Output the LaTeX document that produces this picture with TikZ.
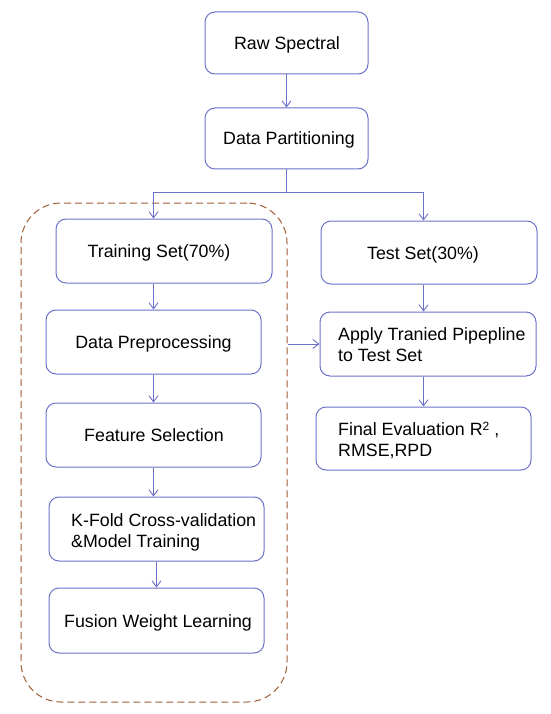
\documentclass[tikz,border=0pt]{standalone}
\usepackage{fontspec}
\setmainfont{Liberation Sans}
\usetikzlibrary{arrows.meta}
\definecolor{boxc}{RGB}{108,114,200}
\definecolor{grpc}{RGB}{160,95,55}
\begin{document}
\begin{tikzpicture}[x=1pt,y=1pt,
  box/.style={draw=boxc, line width=1pt, rounded corners=10pt, inner sep=0pt, minimum width=215pt, minimum height=64pt},
  txt/.style={inner sep=0pt, font=\fontsize{17.8}{21}\selectfont, align=left},
  conn/.style={draw=boxc, line width=0.9pt},
  arr/.style={conn, -{Straight Barb[length=6pt,width=9pt]}},
  grp/.style={draw=grpc, line width=1pt, dash pattern=on 7pt off 4pt, rounded corners=40pt, minimum width=266pt, minimum height=499pt, inner sep=0pt}]
\useasboundingbox (0,0) rectangle (550,-714);
\fill[white] (0,0) rectangle (550,-714);
% group
\node[grp] (group) at (154,-452.5) {};
% boxes
\node[box, minimum width=163pt, minimum height=62pt] (raw) at (286.5,-43) {};
\node[box, minimum width=163pt, minimum height=61pt] (dp) at (286.5,-138.5) {};
\node[box, minimum width=216pt] (train) at (164,-251) {};
\node[box] (prep) at (153.5,-342) {};
\node[box] (feat) at (153.5,-435) {};
\node[box] (kfold) at (156.5,-529) {};
\node[box, minimum height=65pt] (fusion) at (156.5,-620.5) {};
\node[box, minimum width=216pt, minimum height=63pt] (test) at (429,-252.5) {};
\node[box, minimum width=216pt] (apply) at (428,-344) {};
\node[box, minimum height=63pt] (final) at (423.5,-438.5) {};
% texts
\node[txt, anchor=base] (rawt) at (287,-49.5) {Raw Spectral};
\node[txt, anchor=base] (dpt) at (289,-145) {Data Partitioning};
\node[txt, anchor=base] (traint) at (159,-257.5) {Training Set(70\%)};
\node[txt, anchor=base] (prept) at (153.5,-348.5) {Data Preprocessing};
\node[txt, anchor=base] (featt) at (154,-441.5) {Feature Selection};
\node[txt, anchor=base west] (kfoldt) at (71,-547) {K-Fold Cross-validation\\\&Model Training};
\node[txt, anchor=base] (fusiont) at (158,-627) {Fusion Weight Learning};
\node[txt, anchor=base] (testt) at (423,-259) {Test Set(30\%)};
\node[txt, anchor=base west] (applyt) at (338,-361) {Apply Tranied Pipepline\\to Test Set};
\node[txt, anchor=base west] (finalt) at (338,-456) {Final Evaluation R{\fontsize{12}{12}\selectfont\raisebox{5pt}{2}} ,\\RMSE,RPD};
% connectors
\coordinate (split) at (286.5,-192);
\draw[arr] (raw) -- (dp);
\draw[conn] (dp.south) -- (split);
\draw[arr] (split) -| (prep.north |- train.north);
\draw[arr] (split) -| (final.north |- test.north);
\draw[arr] (prep.north |- train.south) -- (prep.north);
\draw[arr] (prep.south) -- (feat.north);
\draw[arr] (feat.south) -- (feat.south |- kfold.north);
\draw[arr] (kfold.south) -- (fusion.north);
\draw[arr] (final.north |- test.south) -- (final.north |- apply.north);
\draw[arr] (final.north |- apply.south) -- (final.north);
\draw[arr] (group.east |- apply.west) -- (apply.west);
\end{tikzpicture}
\end{document}
